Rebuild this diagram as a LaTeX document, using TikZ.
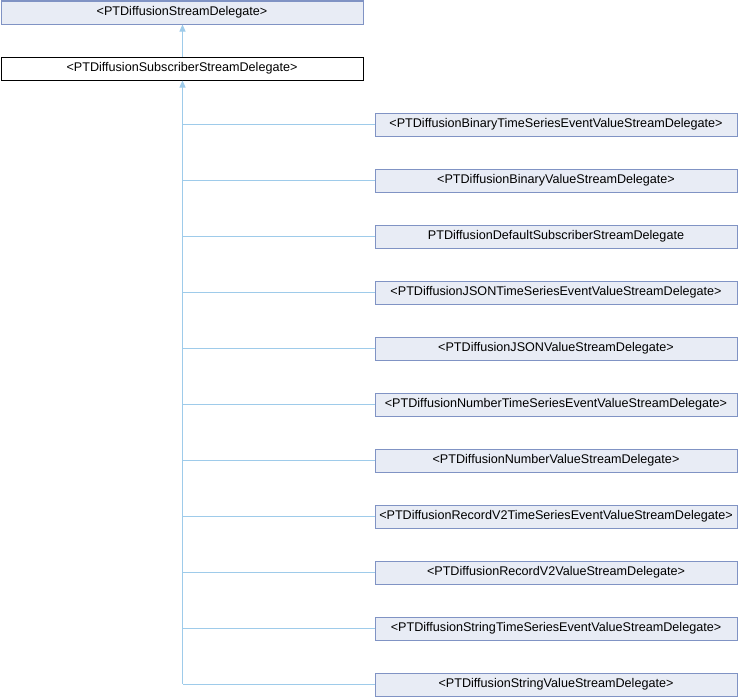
\documentclass[tikz,border=0pt]{standalone}
\usepackage{fontspec}
\setmainfont{Liberation Sans}
\usetikzlibrary{arrows.meta}
\definecolor{boxfill}{HTML}{E8ECF5}
\definecolor{boxline}{HTML}{8093C4}
\definecolor{edgecol}{HTML}{9ECBEA}
\tikzset{
  cls/.style={draw=boxline, fill=boxfill, line width=1pt, minimum width=362pt, minimum height=23pt, inner sep=0pt, anchor=north west, font=\fontsize{12.6pt}{14pt}\selectfont},
  cur/.style={cls, draw=black, fill=white},
  inh/.style={draw=edgecol, line width=1pt, -{Triangle[length=7pt,width=6pt]}},
  br/.style={draw=edgecol, line width=1pt}
}
\begin{document}
\begin{tikzpicture}[x=1pt,y=1pt]
\useasboundingbox (0,0) rectangle (738,-696);
\node[cls] (base) at (0.5,-0.5) {<PTDiffusionStreamDelegate>};
\node[cur] (sub) at (0.5,-56.5) {<PTDiffusionSubscriberStreamDelegate>};
\draw[inh] (182.5,-56.5) coordinate (s1) -- (s1 |- base.south);
\foreach \n/\t [count=\k from 0] in {
 c1/{<PTDiffusionBinaryTimeSeriesEventValueStreamDelegate>},
 c2/{<PTDiffusionBinaryValueStreamDelegate>},
 c3/{PTDiffusionDefaultSubscriberStreamDelegate},
 c4/{<PTDiffusionJSONTimeSeriesEventValueStreamDelegate>},
 c5/{<PTDiffusionJSONValueStreamDelegate>},
 c6/{<PTDiffusionNumberTimeSeriesEventValueStreamDelegate>},
 c7/{<PTDiffusionNumberValueStreamDelegate>},
 c8/{<PTDiffusionRecordV2TimeSeriesEventValueStreamDelegate>},
 c9/{<PTDiffusionRecordV2ValueStreamDelegate>},
 c10/{<PTDiffusionStringTimeSeriesEventValueStreamDelegate>},
 c11/{<PTDiffusionStringValueStreamDelegate>}} {
  \node[cls] (\n) at (374.5,{-112.5-56*\k}) {\t};
}
\coordinate (tb) at (182.5,-684);
\draw[inh] (tb) -- (tb |- sub.south);
\foreach \n in {c1,c2,c3,c4,c5,c6,c7,c8,c9,c10,c11} {
  \draw[br] (\n.west) -- (tb |- \n.west);
}
\end{tikzpicture}
\end{document}
